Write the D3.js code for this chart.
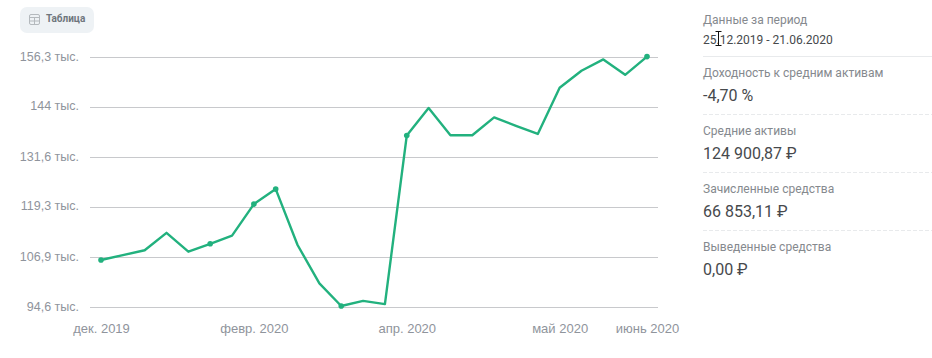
<!DOCTYPE html>
<html>
<head>
<meta charset="utf-8">
<script src="https://cdn.jsdelivr.net/npm/d3@7"></script>
<style>
    html, body { margin: 0; padding: 0; background: #fff; }
    svg { display: block; font-family: Roboto, sans-serif; }
</style>
</head>
<body>
<div id="chart"></div>
<script>
// Недели периода (конец недели)
const weeks = ["29.12", "05.01", "12.01", "19.01", "26.01", "02.02", "09.02", "16.02", "23.02",
    "01.03", "08.03", "15.03", "22.03", "29.03", "05.04", "12.04", "19.04", "26.04",
    "03.05", "10.05", "17.05", "24.05", "31.05", "07.06", "14.06", "21.06"];

// Стоимость портфеля, тыс.
const values = [106.2, 107.4, 108.6, 112.9, 108.25, 110.2, 112.2, 120, 123.7,
    109.9, 100.45, 94.85, 96.1, 95.3, 136.9, 143.7, 137, 137,
    141.4, 139.3, 137.3, 148.7, 152.9, 155.7, 151.9, 156.4];

// Недели, где на линии стоит точка
const markedWeeks = ["29.12", "02.02", "16.02", "23.02", "15.03", "05.04", "21.06"];

const yTicks = [94.6, 106.9, 119.3, 131.6, 144, 156.3];
const xTickWeeks = ["29.12", "16.02", "05.04", "24.05", "21.06"];
const xTickLabels = ["дек. 2019", "февр. 2020", "апр. 2020", "май 2020", "июнь 2020"];

const statLabels = ["Данные за период", "Доходность к средним активам", "Средние активы",
    "Зачисленные средства", "Выведенные средства"];
const statValues = ["25.12.2019 - 21.06.2020", "-4,70 %", "124 900,87 ₽", "66 853,11 ₽", "0,00 ₽"];

const width = 932;
const height = 358;

const svg = d3.select("#chart")
    .append("svg")
    .attr("width", width)
    .attr("height", height);

// Шкалы
const x = d3.scalePoint()
    .domain(weeks)
    .range([101, 647]);

const y = d3.scaleLinear()
    .domain([94.6, 156.3])
    .range([307, 57]);

// Ось Y с линиями сетки
const yAxis = svg.append("g")
    .attr("transform", "translate(90,0)")
    .call(d3.axisLeft(y).tickValues(yTicks).tickSize(-568).tickPadding(11)
        .tickFormat(d => `${String(d).replace(".", ",")} тыс.`));
yAxis.select(".domain").remove();
yAxis.selectAll("line")
    .attr("stroke", "#c8c9cc")
    .attr("shape-rendering", "crispEdges");
yAxis.selectAll("text")
    .attr("dy", "0.24em")
    .style("font-size", "12.5px")
    .style("fill", "#8f949c");

// Ось X
const xAxis = svg.append("g")
    .attr("transform", "translate(0,324)")
    .call(d3.axisBottom(x).tickValues(xTickWeeks).tickSize(0).tickPadding(0)
        .tickFormat(d => xTickLabels[xTickWeeks.indexOf(d)]));
xAxis.select(".domain").remove();
xAxis.selectAll("text")
    .style("font-size", "13px")
    .style("fill", "#8f949c");

// Линия
const line = d3.line()
    .x((d, i) => x(weeks[i]))
    .y(d => y(d));

svg.append("path")
    .datum(values)
    .attr("fill", "none")
    .attr("stroke", "#22b17e")
    .attr("stroke-width", 2.4)
    .attr("stroke-linejoin", "round")
    .attr("d", line);

// Точки
svg.selectAll(".dot")
    .data(markedWeeks)
    .enter()
    .append("circle")
    .attr("class", "dot")
    .attr("cx", d => x(d))
    .attr("cy", d => y(values[weeks.indexOf(d)]))
    .attr("r", 2.8)
    .attr("fill", "#22b17e");

// Кнопка "Таблица"
svg.append("rect")
    .attr("x", 20)
    .attr("y", 7)
    .attr("width", 74)
    .attr("height", 26)
    .attr("rx", 7)
    .attr("fill", "#eef2f5");

const icon = svg.append("g")
    .attr("fill", "none")
    .attr("stroke", "#b4b9bd")
    .attr("stroke-width", 1);
icon.append("rect")
    .attr("x", 29.5)
    .attr("y", 14.5)
    .attr("width", 10)
    .attr("height", 10)
    .attr("rx", 1.5);
icon.append("path")
    .attr("d", "M29.5 17.5H39.5M29.5 21H39.5M34.5 17.5V24.5");

svg.append("text")
    .attr("x", 46)
    .attr("y", 22)
    .text("Таблица")
    .style("font-size", "10px")
    .style("font-weight", "bold")
    .style("fill", "#6f767d");

// Правая панель
const rowTop = [24, 77, 135, 193, 251];
const rowValue = [44, 101, 159, 217, 275];
const rowFont = ["12px", "16px", "16px", "16px", "16px"];

statLabels.forEach((label, i) => {
    svg.append("text")
        .attr("x", 703)
        .attr("y", rowTop[i])
        .text(label)
        .style("font-size", "12px")
        .style("fill", "#85898e");

    svg.append("text")
        .attr("x", 703)
        .attr("y", rowValue[i])
        .text(statValues[i])
        .style("font-size", rowFont[i])
        .style("fill", "#46494c");
});

// Разделители
[56, 114, 172, 230].forEach((yPos, i) => {
    svg.append("line")
        .attr("x1", 703)
        .attr("x2", 932)
        .attr("y1", yPos + 0.5)
        .attr("y2", yPos + 0.5)
        .attr("stroke", "#e8eaec")
        .attr("stroke-dasharray", i === 0 ? null : "4 2");
});

// Курсор мыши со скриншота
svg.append("path")
    .attr("d", "M715.5 31.5H721.5M718.5 31.5V45.5M715.5 45.5H721.5")
    .attr("fill", "none")
    .attr("stroke", "#111")
    .attr("stroke-width", 1);
</script>
</body>
</html>
